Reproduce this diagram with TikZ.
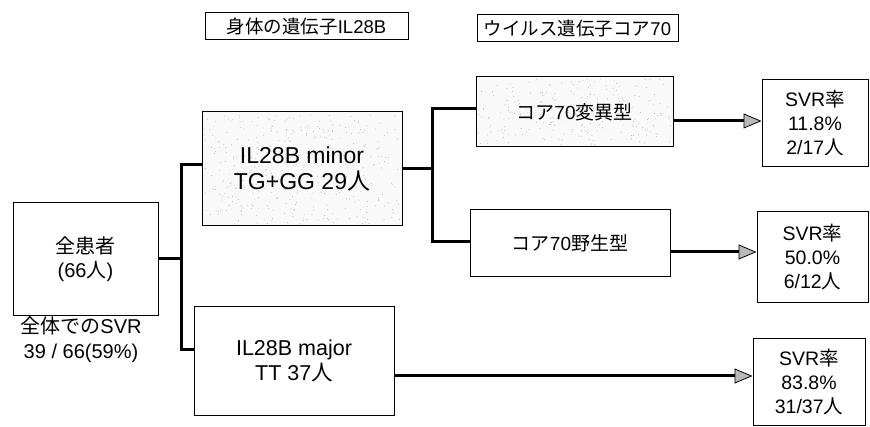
\documentclass[tikz,border=0pt]{standalone}
\usepackage{fontspec}
\setmainfont{Liberation Sans}
\newfontfamily\jp{Noto Sans CJK JP}
\usetikzlibrary{arrows.meta,calc}
\tikzset{
  box/.style={draw=black, line width=1pt, inner sep=0pt, align=center, font=\fontsize{21.5}{25}\selectfont},
  ttl/.style={draw=black, line width=1pt, inner sep=0pt, align=center, font=\fontsize{18.5}{20}\selectfont},
  svr/.style={draw=black, line width=1pt, inner sep=0pt, align=center, font=\fontsize{19.5}{24}\selectfont},
  conn/.style={line width=3pt, line join=miter},
  arr/.style={line width=3pt, -{Triangle[length=18pt,width=15pt,fill=gray!55,line width=0.8pt]}},
}
\begin{document}
\begin{tikzpicture}[x=1pt,y=-1pt]
\useasboundingbox (0,0) rectangle (870,427);
% stippled boxes background
\pgfmathsetseed{7}
\fill[gray!5] (202,112) rectangle (402,226);
\fill[gray!5] (476,77) rectangle (673,147);
\foreach \i in {1,...,380} {
  \pgfmathsetmacro{\px}{204+196*rnd}
  \pgfmathsetmacro{\py}{114+110*rnd}
  \fill[gray!60] (\px,\py) circle (0.5pt);
}
\foreach \i in {1,...,240} {
  \pgfmathsetmacro{\px}{478+193*rnd}
  \pgfmathsetmacro{\py}{79+66*rnd}
  \fill[gray!60] (\px,\py) circle (0.5pt);
}
\node[ttl, minimum width=203pt, minimum height=27pt] (t1) at (306.5,26.5) {{\jp 身体の遺伝子}IL28B};
\node[ttl, minimum width=201pt, minimum height=27pt] (t2) at (577.5,28.5) {{\jp ウイルス遺伝子コア}70};
\node[box, font=\fontsize{20}{24}\selectfont, minimum width=145pt, minimum height=113pt] (all) at (85.5,259) {{\jp 全患者}\\({66}{\jp 人})};
\node[font=\fontsize{20}{25}\selectfont, align=center] (sum) at (81,340) {{\jp 全体での}SVR\\39 / 66(59\%)};
\node[box, font=\fontsize{23}{26}\selectfont, minimum width=200pt, minimum height=114pt] (minor) at (302,169) {IL28B minor\\TG+GG 29{\jp 人}};
\node[box, minimum width=200pt, minimum height=108pt] (major) at (294,361) {IL28B major\\TT 37{\jp 人}};
\node[box, font=\fontsize{19}{22}\selectfont, minimum width=197pt, minimum height=70pt] (mut) at (574.5,112) {{\jp コア}70{\jp 変異型}};
\node[box, font=\fontsize{19}{22}\selectfont, minimum width=200pt, minimum height=67pt] (wild) at (570,243.5) {{\jp コア}70{\jp 野生型}};
\node[svr, minimum width=106pt, minimum height=87pt] (s1) at (815,123.5) {SVR{\jp 率}\\11.8\%\\2/17{\jp 人}};
\node[svr, minimum width=111pt, minimum height=91pt] (s2) at (812.5,257.5) {SVR{\jp 率}\\50.0\%\\6/12{\jp 人}};
\node[svr, minimum width=112pt, minimum height=87pt] (s3) at (809,382) {SVR{\jp 率}\\83.8\%\\31/37{\jp 人}};
% trunk 1
\coordinate (tA) at (181,165);
\coordinate (tB) at (181,350);
\draw[conn] (minor.west |- tA) -- (tA) -- (tB) -- (major.west |- tB);
\draw[conn] (all.east) -- (all.east -| tA);
% trunk 2
\coordinate (uA) at (432,109);
\coordinate (uB) at (432,242);
\draw[conn] (mut.west |- uA) -- (uA) -- (uB) -- (wild.west |- uB);
\draw[conn] (minor.east) -- (minor.east -| uA);
% arrows
\draw[arr] (mut.east |- 0,121) -- (s1.west |- 0,121);
\draw[arr] (wild.east |- 0,252) -- (s2.west |- 0,252);
\draw[arr] (major.east |- 0,376) -- (s3.west |- 0,376);
\end{tikzpicture}
\end{document}
